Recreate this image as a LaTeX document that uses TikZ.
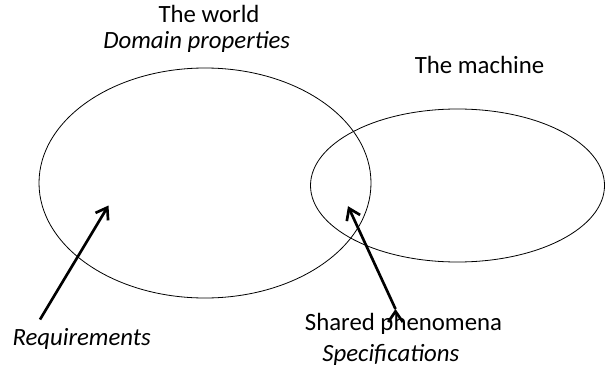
\documentclass[tikz,border=0pt]{standalone}
\usepackage{fontspec}
\setmainfont{Carlito}
\usepackage{tikz}
\usetikzlibrary{shapes.geometric}
\usetikzlibrary{arrows.meta}
\tikzset{set node/.style={ellipse,draw,line width=0.6pt,inner sep=0pt},
         label node/.style={anchor=base,inner sep=0pt,font=\fontsize{18.6}{22}\selectfont},
         point arrow/.style={line width=2pt,-{Straight Barb[length=8pt,width=11pt,line width=2pt]}},
            }

\begin{document}
\begin{tikzpicture}[x=0.75pt,y=0.75pt]
        \useasboundingbox (0,0) rectangle (605,372);
        \node[set node,minimum width=249pt,minimum height=172.5pt] (world) at (205,189) {};
        \node[set node,minimum width=220.5pt,minimum height=114.75pt] (machine) at (457.5,186.5) {};

        \node[label node] (worldname) at (209,349.3) {The world};
        \node[label node] (domain) at (196.7,323.7) {\itshape Domain properties};
        \node[label node] (machinename) at (479.5,298.7) {The machine};
        \node[label node] (req) at (81.7,26.3) {\itshape Requirements};
        \node[label node] (shared) at (403.5,42) {Shared phenomena};
        \node[label node] (spec) at (390.8,10.3) {\itshape Specifications};

        \coordinate (reqfrom) at (40,52.5);
        \coordinate (reqto) at (108.5,166.5);
        \coordinate (sharedfrom) at (395.5,63);
        \coordinate (sharedto) at (348,165.8);

        \path[draw,point arrow]
        (reqfrom) edge (reqto)
        (sharedfrom) edge (sharedto);
      \end{tikzpicture}
\end{document}
